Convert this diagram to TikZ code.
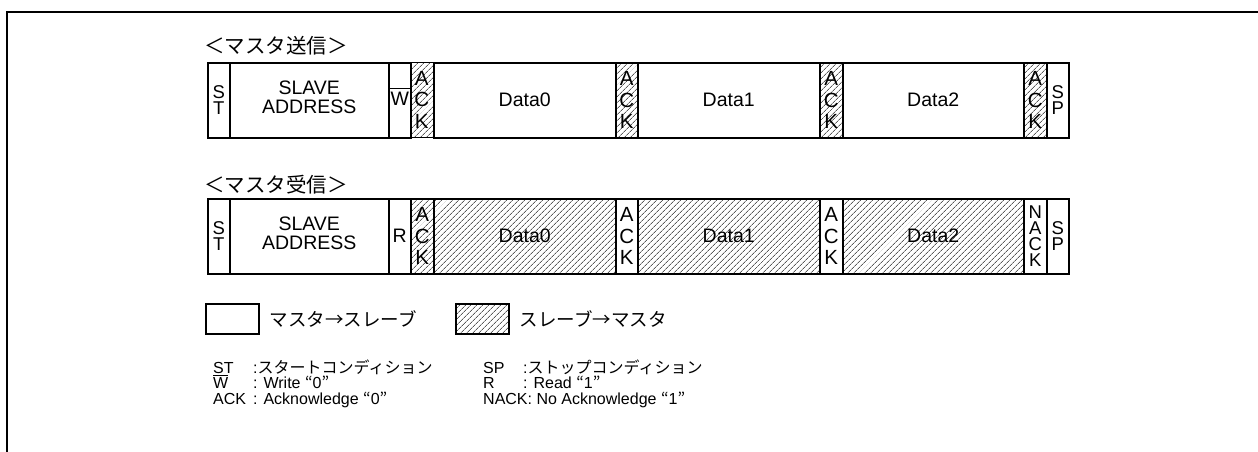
\documentclass[tikz,border=0pt]{standalone}
\usepackage{fontspec}
\setmainfont{Liberation Sans}
\newfontfamily\jp{Noto Sans CJK JP}
\usetikzlibrary{patterns.meta,calc}
\newcommand\ovlW[1]{\vbox{\hrule height 0.9pt\kern1.6pt\hbox{#1}}}
\begin{document}
\begin{tikzpicture}[x=1pt,y=-1pt,
  cell/.style={draw, line width=1.5pt, inner sep=0pt, minimum height=75pt, anchor=north west, align=center, font=\fontsize{19.5}{19.5}\selectfont},
  hatch/.style={pattern={Lines[angle=45,distance=4pt,line width=0.6pt]}},
  stackA/.style={font=\fontsize{20.5}{21.5}\selectfont},
  stackB/.style={font=\fontsize{18.5}{16}\selectfont},
  title/.style={anchor=west, inner sep=0pt, font=\jp\fontsize{20.5}{20.5}\selectfont},
  legtext/.style={anchor=west, inner sep=0pt, font=\jp\fontsize{18.5}{18.5}\selectfont},
  note/.style={anchor=base west, inner sep=0pt, font=\fontsize{16}{16}\selectfont}]
\useasboundingbox (0,0) rectangle (1258,451);
% outer frame
\draw[line width=2.4pt, line join=miter] (7,452) -- (7,12) -- (1259,12);

% titles
\node[title] (t1) at (204,46) {＜マスタ送信＞};
\node[title] (t2) at (204,185) {＜マスタ受信＞};

% top row: master transmit
\node[cell, stackB, minimum width=22pt] (st1) at (207,62) {S\\T};
\node[cell, minimum width=159pt] (sa1) at (229,62) {\raisebox{3pt}{\begin{tabular}{@{}c@{}}SLAVE\\ADDRESS\end{tabular}}};
\node[cell, minimum width=22pt] (w1) at (388,62) {\raisebox{3pt}{W}};
\node[cell, stackA, hatch, minimum width=23pt] (a11) at (410,62) {A\\C\\K};
\node[cell, minimum width=182pt] (d10) at (433,62) {Data0};
\node[cell, stackA, hatch, minimum width=22pt] (a12) at (615,62) {A\\C\\K};
\node[cell, minimum width=182pt] (d11) at (637,62) {Data1};
\node[cell, stackA, hatch, minimum width=23pt] (a13) at (819,62) {A\\C\\K};
\node[cell, minimum width=181pt] (d12) at (842,62) {Data2};
\node[cell, stackA, hatch, minimum width=23pt] (a14) at (1023,62) {A\\C\\K};
\node[cell, stackB, minimum width=22pt] (sp1) at (1046,62) {S\\P};
\draw[line width=1.2pt] ($(w1.north west)!0.347!(w1.south west)$) -- ($(w1.north east)!0.347!(w1.south east)$);

% bottom row: master receive
\node[cell, stackB, minimum width=22pt] (st2) at (207,198) {S\\T};
\node[cell, minimum width=159pt] (sa2) at (229,198) {\raisebox{3pt}{\begin{tabular}{@{}c@{}}SLAVE\\ADDRESS\end{tabular}}};
\node[cell, minimum width=22pt] (r2) at (388,198) {R};
\node[cell, stackA, hatch, minimum width=23pt] (a21) at (410,198) {A\\C\\K};
\node[cell, hatch, minimum width=182pt] (d20) at (433,198) {Data0};
\node[cell, stackA, minimum width=22pt] (a22) at (615,198) {A\\C\\K};
\node[cell, hatch, minimum width=182pt] (d21) at (637,198) {Data1};
\node[cell, stackA, minimum width=23pt] (a23) at (819,198) {A\\C\\K};
\node[cell, hatch, minimum width=181pt] (d22) at (842,198) {Data2};
\node[cell, stackB, minimum width=23pt] (n24) at (1023,198) {N\\A\\C\\K};
\node[cell, stackB, minimum width=22pt] (sp2) at (1046,198) {S\\P};

% legend
\node[cell, minimum width=53pt, minimum height=30pt] (lgw) at (205,303) {};
\node[legtext] (lgwt) at ($(lgw.east)+(10,0)$) {マスタ→スレーブ};
\node[cell, hatch, minimum width=53pt, minimum height=30pt] (lgh) at (455,303) {};
\node[legtext] (lght) at ($(lgh.east)+(10,0)$) {スレーブ→マスタ};

% notes
\node[note] (n1l) at (213,373) {ST};
\node[note] (n1r) at (253,373) {:{\jp スタートコンディション}};
\node[note] (n2l) at (213,388.5) {\ovlW{W}};
\node[note] (n2r) at (253,388.5) {: Write {\jp “}0{\jp ”}};
\node[note] (n3l) at (213,404) {ACK};
\node[note] (n3r) at (253,404) {: Acknowledge {\jp “}0{\jp ”}};
\node[note] (m1l) at (483,373) {SP};
\node[note] (m1r) at (523,373) {:{\jp ストップコンディション}};
\node[note] (m2l) at (483,388.5) {R};
\node[note] (m2r) at (523,388.5) {: Read {\jp “}1{\jp ”}};
\node[note] (m3l) at (483,404) {NACK: No Acknowledge {\jp “}1{\jp ”}};
\end{tikzpicture}
\end{document}
